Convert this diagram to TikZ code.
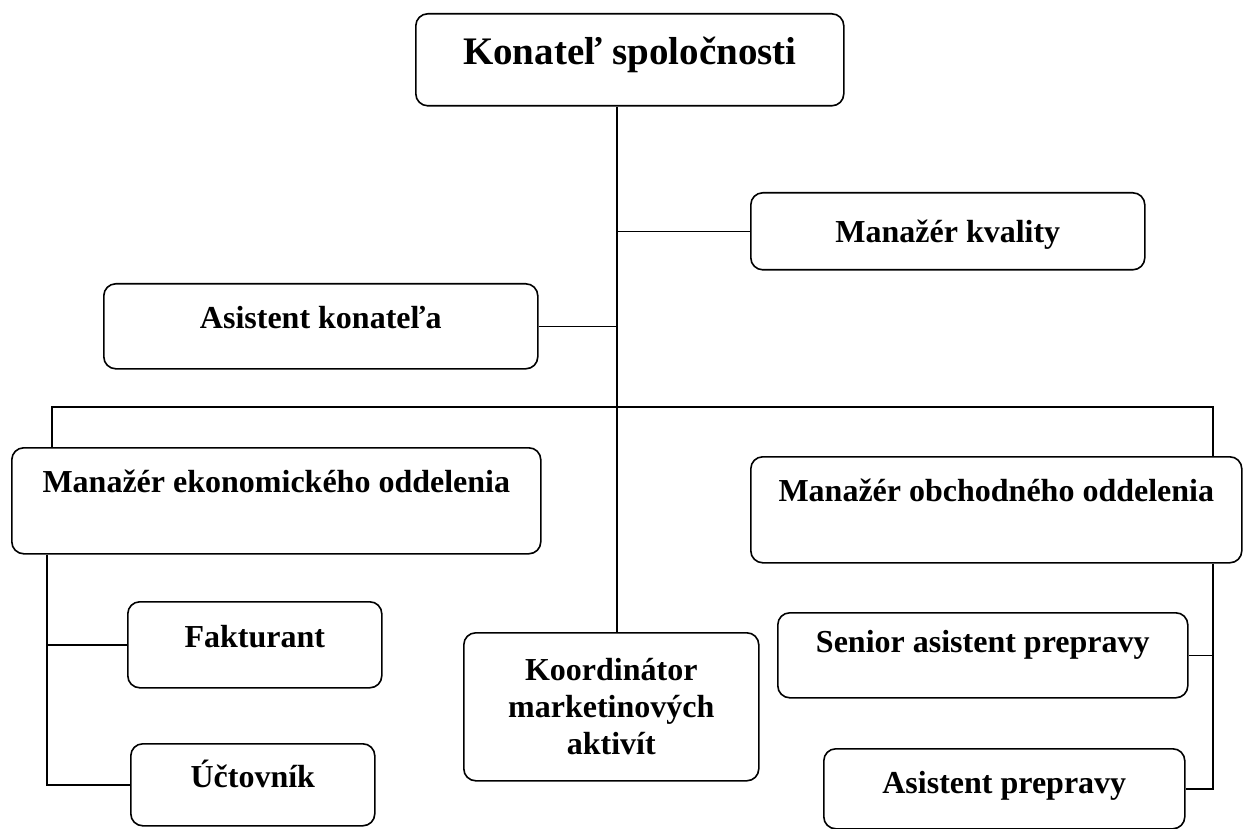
\documentclass[tikz,border=0pt]{standalone}
\usepackage{fontspec}
\setmainfont{Liberation Serif}
\usetikzlibrary{positioning, calc}
\tikzset{
  post/.style={
    rectangle, rounded corners=12pt, draw=black, line width=1.6pt,
    fill=white, align=center, inner xsep=0pt, inner ysep=0pt,
    anchor=north west, font=\fontsize{32}{37}\selectfont\bfseries
  },
  head/.style={post, font=\fontsize{39}{44}\selectfont\bfseries},
  link/.style={draw=black, line width=1.4pt}
}

\begin{document}
\begin{tikzpicture}[x=1pt, y=-1pt]
\useasboundingbox[fill=white] (0,0) rectangle (1243,829);

% Top level
\node[head, minimum width=428pt, text height=51pt, text depth=41pt] (kon) at (415,13) {Konateľ spoločnosti};
\node[post, minimum width=394pt, text height=50pt, text depth=27pt] (kval) at (750,192) {Manažér kvality};
\node[post, minimum width=434pt, text height=45pt, text depth=40pt] (asist) at (103,283) {Asistent konateľa};

% Departments
\node[post, minimum width=529pt, text height=45pt, text depth=61pt] (eko) at (11,447) {Manažér ekonomického oddelenia};
\node[post, minimum width=491pt, text height=45pt, text depth=61pt] (obch) at (750,456) {Manažér obchodného oddelenia};

% Staff
\node[post, minimum width=254pt, text height=46pt, text depth=40pt] (fakt) at (127,601) {Fakturant};
\node[post, minimum width=244pt, text height=44pt, text depth=38pt] (uct) at (130,743) {Účtovník};
\node[post, minimum width=295pt, minimum height=148pt] (koord) at (463,632) {Koordinátor\\marketinových\\aktivít};
\node[post, minimum width=410pt, text height=40pt, text depth=45pt] (sen) at (777,612) {Senior asistent prepravy};
\node[post, minimum width=361pt, text height=45pt, text depth=35pt] (asp) at (823,748) {Asistent prepravy};

% Branch points
\coordinate (bar) at (617,407);
\coordinate (barL) at (52,407);
\coordinate (barR) at (1213,407);
\coordinate (spineL) at (47,600);

% Connectors
\draw[link] (kon.south -| bar) -- (koord.north -| bar);
\draw[link] (kval.west) -- (kval.west -| bar);
\draw[link] (asist.east) -- (asist.east -| bar);
\draw[link] (eko.north -| barL) -- (barL) -- (barR) -- (obch.north -| barR);
\draw[link] (eko.south -| spineL) -- (uct.west -| spineL) -- (uct.west);
\draw[link] (fakt.west) -- (fakt.west -| spineL);
\draw[link] (obch.south -| barR) -- (asp.east -| barR) -- (asp.east);
\draw[link] (sen.east) -- (sen.east -| barR);

\end{tikzpicture}
\end{document}
